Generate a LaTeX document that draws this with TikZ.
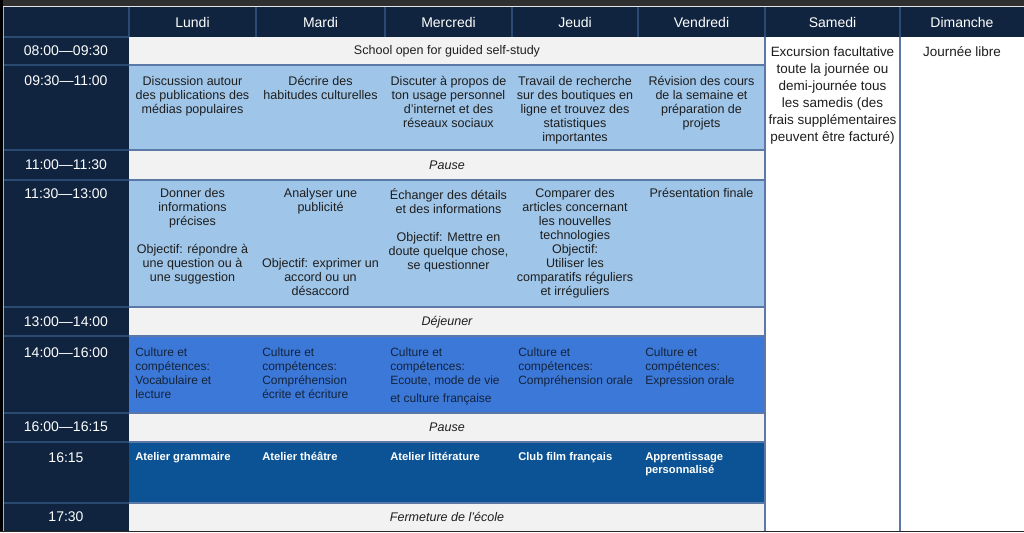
\documentclass[tikz,border=0pt]{standalone}
\usepackage{fontspec}
\setmainfont{Liberation Sans}
\usepackage{tikz}

\definecolor{navy}{HTML}{10243F}
\definecolor{navyline}{HTML}{2B4A72}
\definecolor{pale}{HTML}{F2F2F2}
\definecolor{skyblue}{HTML}{9FC5E8}
\definecolor{midblue}{HTML}{3C78D8}
\definecolor{deepblue}{HTML}{0B5394}
\definecolor{gridline}{HTML}{5B78A6}
\definecolor{topstrip}{HTML}{2F2F2F}
\definecolor{cellink}{HTML}{1E1E1E}
\definecolor{darkink}{HTML}{14243C}

\tikzset{
	daytext/.style={text=white, inner sep=0pt, font=\fontsize{10.5}{12}\selectfont},
	timetext/.style={text=white, inner sep=0pt, font=\fontsize{10.5}{12}\selectfont},
	celltext/.style={anchor=north, align=center, inner sep=0pt, text=cellink, font=\fontsize{9.4}{10.5}\selectfont},
	breaktext/.style={inner sep=0pt, text=cellink, font=\itshape\fontsize{9.4}{10.5}\selectfont},
	culturetext/.style={anchor=north west, align=left, inner sep=0pt, text=darkink, font=\fontsize{9}{10.3}\selectfont},
	ateliertext/.style={anchor=north west, align=left, inner sep=0pt, text=white, font=\bfseries\fontsize{8.4}{9.9}\selectfont},
	weekendtext/.style={anchor=north, align=center, inner sep=0pt, text=cellink, font=\fontsize{10.1}{12.75}\selectfont},
	rowline/.style={draw=gridline, line width=1.1pt},
	headline/.style={draw=navyline, line width=0.8pt}
}

\begin{document}
\begin{tikzpicture}[x=0.75pt, y=-0.75pt]
	\useasboundingbox (0,0) rectangle (1024,532);
	\fill[white] (0,0) rectangle (1024,532);
	\fill[topstrip] (0,0) rectangle (1024,6);
	\draw[white!80!gray, line width=0.6pt] (3,6.5) -- (1024,6.5);

	\fill[navy] (4,7) rectangle (1024,37);
	\fill[navy] (4,37) rectangle (129,531);
	\fill[pale] (129,37) rectangle (765,65);
	\fill[skyblue] (129,65) rectangle (765,150);
	\fill[pale] (129,150) rectangle (765,180);
	\fill[skyblue] (129,180) rectangle (765,307);
	\fill[pale] (129,307) rectangle (765,336);
	\fill[midblue] (129,336) rectangle (765,413);
	\fill[pale] (129,413) rectangle (765,442);
	\fill[deepblue] (129,442) rectangle (765,503);
	\fill[pale] (129,503) rectangle (765,531);

	\draw[headline] (129,7) -- (129,37) (256,7) -- (256,37) (385,7) -- (385,37)
		(512,7) -- (512,37) (638,7) -- (638,37) (765,7) -- (765,37) (900,7) -- (900,37);
	\draw[headline] (4,37) -- (129,37) (4,65) -- (129,65) (4,150) -- (129,150)
		(4,180) -- (129,180) (4,307) -- (129,307) (4,336) -- (129,336)
		(4,413) -- (129,413) (4,442) -- (129,442) (4,503) -- (129,503);
	\draw[rowline] (129,65) -- (765,65) (129,150) -- (765,150) (129,180) -- (765,180)
		(129,307) -- (765,307) (129,336) -- (765,336) (129,413) -- (765,413)
		(129,442) -- (765,442) (129,503) -- (765,503);
	\draw[rowline] (765,37) -- (765,531);
	\draw[rowline, line width=1.5pt] (900,37) -- (900,531);

	\fill[black] (0,0) rectangle (3,532);
	\draw[gray!60, line width=0.5pt] (3.5,7) -- (3.5,531);
	\fill[black!85] (0,530.5) rectangle (1024,532);

	\node[daytext] (lundi) at (192.5,22) {Lundi};
	\node[daytext] (mardi) at (320.5,22) {Mardi};
	\node[daytext] (mercredi) at (448.5,22) {Mercredi};
	\node[daytext] (jeudi) at (575,22) {Jeudi};
	\node[daytext] (vendredi) at (701.5,22) {Vendredi};
	\node[daytext] (samedi) at (832.5,22) {Samedi};
	\node[daytext] (dimanche) at (962,22) {Dimanche};

	\node[timetext] (t0800) at (66,51) {08:00—09:30};
	\node[timetext, anchor=north] (t0930) at (66,75) {09:30—11:00};
	\node[timetext] (t1100) at (66,165) {11:00—11:30};
	\node[timetext, anchor=north] (t1130) at (66,188) {11:30—13:00};
	\node[timetext] (t1300) at (66,322) {13:00—14:00};
	\node[timetext, anchor=north] (t1400) at (66,347) {14:00—16:00};
	\node[timetext] (t1600) at (66,427) {16:00—16:15};
	\node[timetext, anchor=north] (t1615) at (66,452) {16:15};
	\node[timetext] (t1730) at (66,517) {17:30};

	\node[breaktext, font=\fontsize{9.4}{10.5}\selectfont] (selfstudy) at (447,51) {School open for guided self-study};
	\node[breaktext] (pause1) at (447,165) {Pause};
	\node[breaktext] (dejeuner) at (447,322) {Déjeuner};
	\node[breaktext] (pause2) at (447,427) {Pause};
	\node[breaktext] (fermeture) at (447,517) {Fermeture de l'école};

	\node[celltext] (lun1) at (192.5,76) {Discussion autour\\des publications des\\médias populaires};
	\node[celltext] (mar1) at (320.5,76) {Décrire des\\habitudes culturelles};
	\node[celltext] (mer1) at (448.5,76) {Discuter à propos de\\ton usage personnel\\d'internet et des\\réseaux sociaux};
	\node[celltext] (jeu1) at (575,76) {Travail de recherche\\sur des boutiques en\\ligne et trouvez des\\statistiques\\importantes};
	\node[celltext] (ven1) at (701.5,76) {Révision des cours\\de la semaine et\\préparation de\\projets};

	\node[celltext] (lun2) at (192.5,188) {Donner des\\informations\\précises\\[10.5pt]Objectif: répondre à\\une question ou à\\une suggestion};
	\node[celltext] (mar2) at (320.5,188) {Analyser une\\publicité\\[31.5pt]Objectif: exprimer un\\accord ou un\\désaccord};
	\node[celltext] (mer2) at (448.5,188) {Échanger des détails\\et des informations\\[10.5pt]Objectif: Mettre en\\doute quelque chose,\\se questionner};
	\node[celltext] (jeu2) at (575,188) {Comparer des\\articles concernant\\les nouvelles\\technologies\\Objectif:\\Utiliser les\\comparatifs réguliers\\et irréguliers};
	\node[celltext] (ven2) at (701.5,188) {Présentation finale};

	\node[culturetext] (lun3) at (135,348) {Culture et\\compétences:\\Vocabulaire et\\lecture};
	\node[culturetext] (mar3) at (262,348) {Culture et\\compétences:\\Compréhension\\écrite et écriture};
	\node[culturetext] (mer3) at (390,348) {Culture et\\compétences:\\Ecoute, mode de vie\\[3pt]et culture française};
	\node[culturetext] (jeu3) at (518,348) {Culture et\\compétences:\\Compréhension orale};
	\node[culturetext] (ven3) at (645,348) {Culture et\\compétences:\\Expression orale};

	\node[ateliertext] (lun4) at (135,452) {Atelier grammaire};
	\node[ateliertext] (mar4) at (262,452) {Atelier théâtre};
	\node[ateliertext] (mer4) at (390,452) {Atelier littérature};
	\node[ateliertext] (jeu4) at (518,452) {Club film français};
	\node[ateliertext] (ven4) at (645,452) {Apprentissage\\personnalisé};

	\node[weekendtext] (excursion) at (832.5,46) {Excursion facultative\\toute la journée ou\\demi-journée tous\\les samedis (des\\frais supplémentaires\\peuvent être facturé)};
	\node[weekendtext] (libre) at (962,46) {Journée libre};
\end{tikzpicture}
\end{document}
